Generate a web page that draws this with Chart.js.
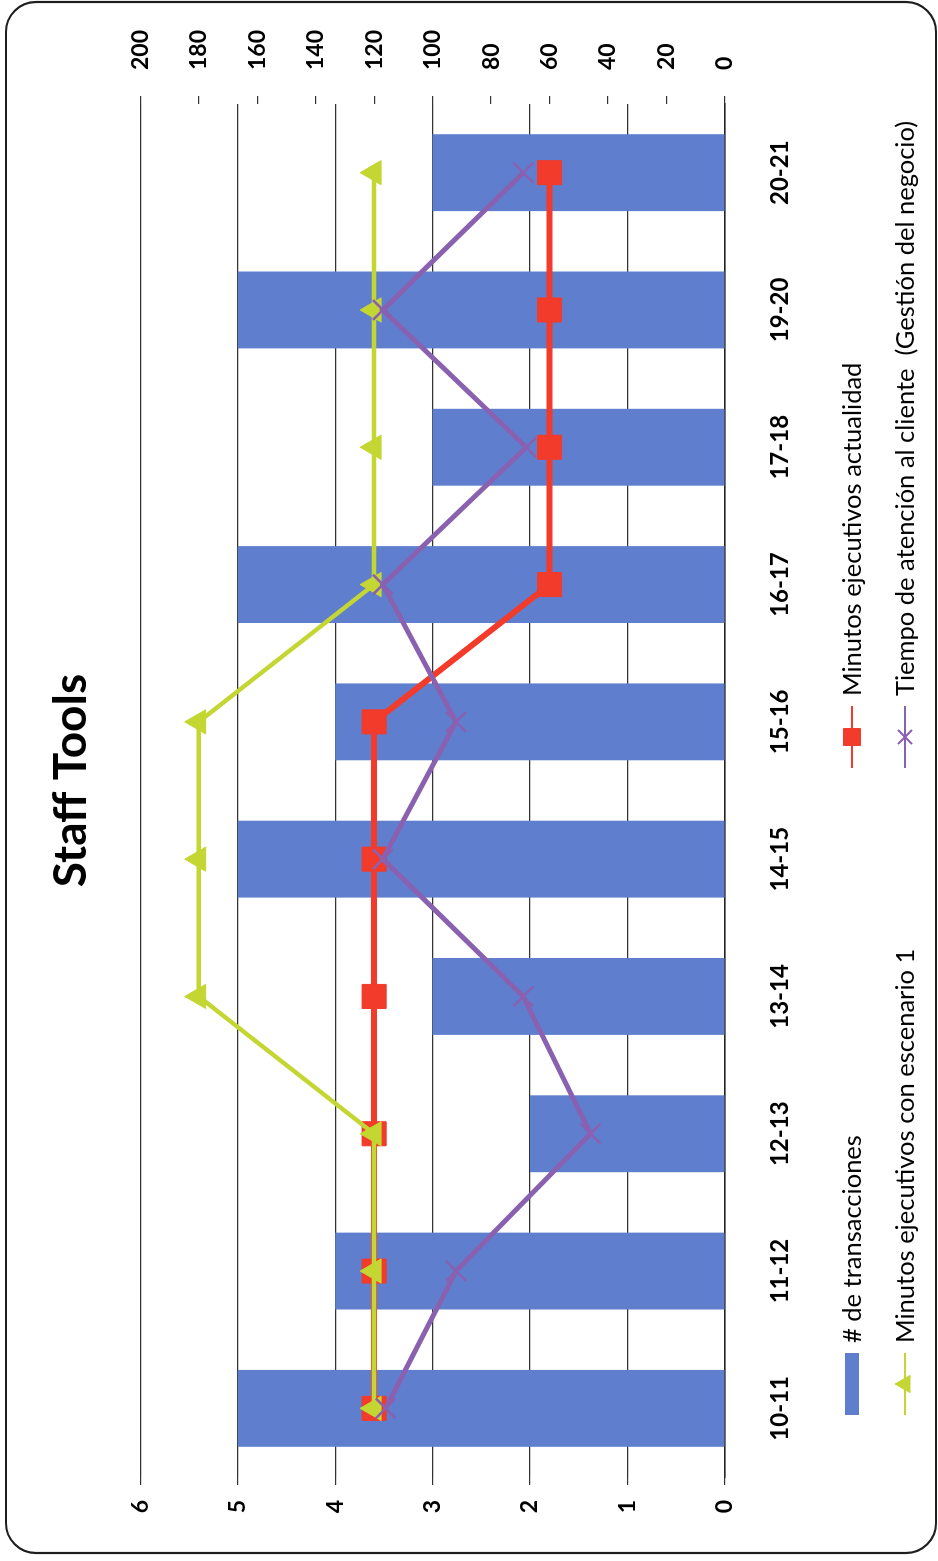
<!DOCTYPE html>
<html>
<head>
<meta charset="utf-8">
<script src="https://cdn.jsdelivr.net/npm/chart.js@4.4.1/dist/chart.umd.min.js"></script>
<style>
  html, body { margin: 0; padding: 0; background: #fff; overflow: hidden; }
  body { width: 938px; height: 1561px; position: relative; }
  /* the chart is laid out landscape and turned a quarter turn to fit the page */
  #page {
    position: absolute; left: 0; top: 0;
    width: 1561px; height: 938px;
    transform-origin: 0 0;
    transform: translate(0, 1561px) rotate(-90deg);
  }
  canvas { display: block; }
</style>
</head>
<body>
<div id="page"><canvas id="chart" width="1561" height="938"></canvas></div>
<script>
// ---- data ----
const categories = ['10-11', '11-12', '12-13', '13-14', '14-15', '15-16', '16-17', '17-18', '19-20', '20-21'];
const transacciones = [5, 4, 2, 3, 5, 4, 5, 3, 5, 3];
const minutosActualidad = [120, 120, 120, 120, 120, 120, 60, 60, 60, 60];
const minutosEscenario1 = [120, 120, 120, 180, 180, 180, 120, 120, 120, 120];
const tiempoAtencion = [116, 92, 46, 69, 117, 92, 117, 68, 117, 69];
const leftTicks = [0, 1, 2, 3, 4, 5, 6];
const rightTicks = [0, 20, 40, 60, 80, 100, 120, 140, 160, 180, 200];
const seriesNames = [
  '# de transacciones',
  'Minutos ejecutivos actualidad',
  'Minutos ejecutivos con escenario 1',
  'Tiempo de atención al cliente  (Gestión del negocio)'
];

// ---- styling ----
const FONT = "Lato, 'Open Sans', 'Noto Sans', sans-serif";
const BLUE = '#5f7fce';
const RED = '#f23b2b';
const GREEN = '#c4d632';
const PURPLE = '#8a60b0';

// rounded frame behind everything
const framePlugin = {
  id: 'frame',
  beforeDraw(chart) {
    const ctx = chart.ctx;
    ctx.save();
    ctx.fillStyle = '#fff';
    ctx.fillRect(0, 0, chart.width, chart.height);
    ctx.beginPath();
    ctx.roundRect(8, 6, 1551, 930, 30);
    ctx.lineWidth = 2.2;
    ctx.strokeStyle = '#1e1e1e';
    ctx.stroke();
    ctx.restore();
  }
};

// two-column legend under the category axis
const gridLegendPlugin = {
  id: 'gridLegend',
  afterDraw(chart) {
    const ctx = chart.ctx;
    const cols = [146, 793];
    const rows = [852, 905];
    const keyLen = 62;
    chart.data.datasets.forEach((ds, i) => {
      const x = cols[i % 2];
      const y = rows[Math.floor(i / 2)];
      ctx.save();
      if (ds.type === 'bar') {
        ctx.fillStyle = ds.backgroundColor;
        ctx.fillRect(x, y - 7, keyLen, 14);
      } else {
        ctx.strokeStyle = ds.borderColor;
        ctx.lineWidth = 2;
        ctx.beginPath();
        ctx.moveTo(x, y);
        ctx.lineTo(x + keyLen, y);
        ctx.stroke();
        ctx.fillStyle = ds.pointBackgroundColor;
        ctx.strokeStyle = ds.pointBorderColor;
        ctx.lineWidth = ds.pointStyle === 'crossRot' ? 2 : 1;
        Chart.helpers.drawPoint(ctx, {
          pointStyle: ds.pointStyle,
          radius: ds.legendRadius,
          rotation: 0,
          borderWidth: ctx.lineWidth
        }, x + keyLen / 2, y);
      }
      ctx.fillStyle = '#000';
      ctx.font = '25.5px ' + FONT;
      ctx.textBaseline = 'middle';
      ctx.textAlign = 'left';
      ctx.fillText(ds.label, x + keyLen + 10, y + 1);
      ctx.restore();
    });
  }
};

const tickFont = { family: FONT, size: 23, weight: 'bold' };

new Chart(document.getElementById('chart'), {
  data: {
    labels: categories,
    datasets: [
      {
        type: 'bar',
        label: seriesNames[0],
        data: transacciones,
        yAxisID: 'y',
        backgroundColor: BLUE,
        borderWidth: 0,
        categoryPercentage: 1,
        barPercentage: 0.56,
        order: 4
      },
      {
        type: 'line',
        label: seriesNames[1],
        data: minutosActualidad,
        yAxisID: 'y1',
        borderColor: RED,
        borderWidth: 6,
        pointStyle: 'rect',
        pointRadius: 17,
        pointBackgroundColor: RED,
        pointBorderColor: RED,
        pointBorderWidth: 1,
        legendRadius: 12,
        tension: 0,
        fill: false,
        order: 3
      },
      {
        type: 'line',
        label: seriesNames[2],
        data: minutosEscenario1,
        yAxisID: 'y1',
        borderColor: GREEN,
        borderWidth: 4.5,
        pointStyle: 'triangle',
        pointRadius: 14,
        pointBackgroundColor: GREEN,
        pointBorderColor: GREEN,
        pointBorderWidth: 1,
        legendRadius: 10,
        tension: 0,
        fill: false,
        order: 2
      },
      {
        type: 'line',
        label: seriesNames[3],
        data: tiempoAtencion,
        yAxisID: 'y1',
        borderColor: PURPLE,
        borderWidth: 5,
        pointStyle: 'crossRot',
        pointRadius: 14,
        pointBackgroundColor: PURPLE,
        pointBorderColor: PURPLE,
        pointBorderWidth: 2.5,
        legendRadius: 10,
        tension: 0,
        fill: false,
        order: 1
      }
    ]
  },
  options: {
    responsive: false,
    animation: false,
    devicePixelRatio: 1,
    layout: { padding: 0 },
    plugins: {
      legend: { display: false },
      tooltip: { enabled: false },
      title: {
        display: true,
        text: 'Staff Tools',
        color: '#000',
        font: { family: FONT, size: 46, weight: 'bold' },
        padding: { top: 44, bottom: 41 }
      }
    },
    scales: {
      x: {
        type: 'category',
        offset: true,
        grid: { display: false },
        border: { display: true, color: '#222', width: 1.5 },
        ticks: { color: '#000', font: { family: FONT, size: 24, weight: 'bold' }, padding: 33, maxRotation: 0, autoSkip: false },
        afterFit(scale) { scale.height = 213; }
      },
      y: {
        type: 'linear',
        position: 'left',
        min: 0,
        max: 6,
        afterBuildTicks(scale) { scale.ticks = leftTicks.map(v => ({ value: v })); },
        grid: { color: '#333', lineWidth: 1.2, drawTicks: true, tickLength: 8, tickColor: '#333' },
        border: { display: false },
        ticks: { color: '#000', font: tickFont, padding: 15 },
        afterFit(scale) { scale.width = 84; }
      },
      y1: {
        type: 'linear',
        position: 'right',
        min: 0,
        max: 200,
        afterBuildTicks(scale) { scale.ticks = rightTicks.map(v => ({ value: v })); },
        grid: { drawOnChartArea: false, drawTicks: true, tickLength: 8, tickColor: '#333', lineWidth: 1.2 },
        border: { display: false },
        ticks: { color: '#000', font: tickFont, padding: 26 },
        afterFit(scale) { scale.width = 104; }
      }
    }
  },
  plugins: [framePlugin, gridLegendPlugin]
});
</script>
</body>
</html>
